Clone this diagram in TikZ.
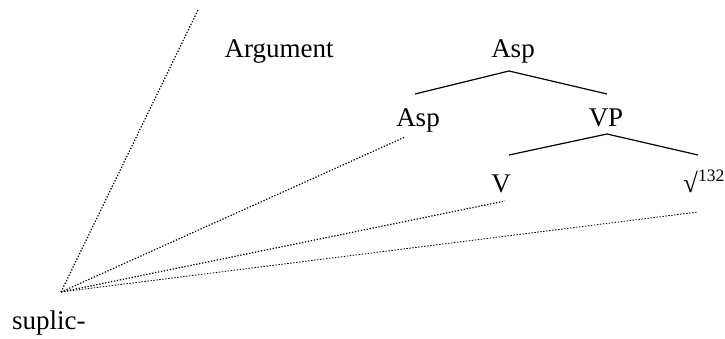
\documentclass[tikz,border=0pt]{standalone}
\usepackage{fontspec}
\setmainfont{Liberation Serif}
\begin{document}
\begin{tikzpicture}[x=1pt,y=-1pt,
  lab/.style={anchor=base,inner sep=0pt,font=\fontsize{27}{30}\selectfont},
  branch/.style={line width=1.2pt},
  fan/.style={dash pattern=on 1.3pt off 1.7pt,line width=1.2pt},
  fanthin/.style={dash pattern=on 1.5pt off 1.5pt,line width=0.8pt}]
\useasboundingbox (0,0) rectangle (725,339);
% labels
\node[lab] (arg) at (279,58) {Argument};
\node[lab] (asptop) at (513,58) {Asp};
\node[lab] (asp) at (418,127) {Asp};
\node[lab] (vp) at (606,127) {VP};
\node[lab] (v) at (501,193) {V};
\node[lab,anchor=base west] (root) at (683,193) {√\raisebox{11pt}{\fontsize{17.5}{20}\selectfont 132}};
\node[lab,anchor=base west] (suplic) at (12,329) {suplic-};
% tree coordinates
\coordinate (t0) at (509,71);
\coordinate (t1) at (415,94);
\coordinate (t2) at (607,94);
\coordinate (u0) at (607,134);
\coordinate (u1) at (509,155);
\coordinate (u2) at (698,155);
\draw[branch] (t1) -- (t0) -- (t2);
\draw[branch] (u1) -- (u0) -- (u2);
% fan
\coordinate (o) at (61,292);
\coordinate (e1) at (198,10);
\coordinate (e2) at (405,137);
\coordinate (e3) at (505,201);
\coordinate (e4) at (698,212);
\draw[fan] (o) -- (e1);
\draw[fan] (o) -- (e2);
\draw[fan] (o) -- (e3);
\draw[fanthin] (o) -- (e4);
\end{tikzpicture}
\end{document}
